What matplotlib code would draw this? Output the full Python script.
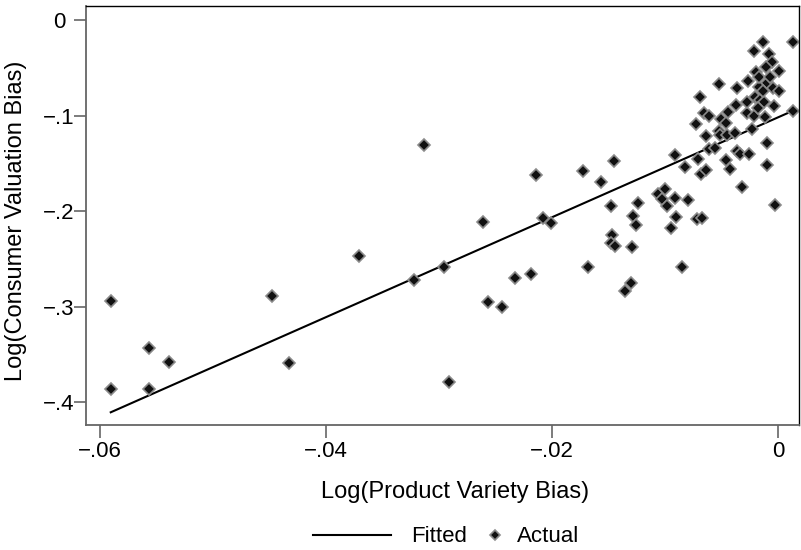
import matplotlib
matplotlib.use("Agg")
import matplotlib.pyplot as plt

plt.rcParams["font.family"] = ["Liberation Sans", "DejaVu Sans"]

# Actual points: log(product variety bias) vs log(consumer valuation bias)
pv_bias = [
    -0.05905, -0.05905, -0.05564, -0.05564, -0.05387, -0.04478, -0.0433, -0.03705,
    -0.03221, -0.03133, -0.02956, -0.02912, -0.02608, -0.02566, -0.0244, -0.02327,
    -0.02188, -0.02144, -0.02082, -0.02012, -0.01723, -0.01681, -0.01564, -0.01454,
    -0.01482, -0.01469, -0.0148, -0.01445, -0.01354, -0.01304, -0.01289, -0.01286,
    -0.01258, -0.01237, -0.01059, -0.01, -0.01029, -0.00985, -0.00912, -0.00792,
    -0.00903, -0.00947, -0.00717, -0.00675, -0.00852, -0.00027, -0.00912, -0.00823,
    -0.00727, -0.00704, -0.00684, -0.00635, -0.00321, -0.00097, -0.00422, -0.00463,
    -0.00363, -0.00339, -0.00257, -0.00608, -0.00553, -0.001, -0.00637, -0.00525,
    -0.00511, -0.00454, -0.00381, -0.00228, -0.00507, -0.0046, -0.00653, -0.00611,
    -0.00442, -0.00274, -0.00215, -0.00115, 0.00133, -0.0069, -0.00204, -0.00159,
    -0.00277, -0.00124, -0.00369, -0.00035, -0.00174, -0.00519, -0.00265, -0.001,
    -0.0017, -0.0036, -0.00042, 0.00012, -0.00135, -0.00135, 0.00133, -0.00215,
    -0.00077, -0.00053, -0.00106, 0.00012, -0.00195, -0.0017, -0.00071,
]
cv_bias = [
    -0.2937, -0.3858, -0.3435, -0.3858, -0.3575, -0.2891, -0.3586, -0.2473,
    -0.2717, -0.1308, -0.2581, -0.3788, -0.2114, -0.2954, -0.3006, -0.2696,
    -0.2658, -0.1619, -0.2072, -0.2121, -0.1577, -0.2581, -0.1695, -0.1478,
    -0.1946, -0.2253, -0.2337, -0.2362, -0.2832, -0.2757, -0.2378, -0.2051,
    -0.2147, -0.1913, -0.1821, -0.1768, -0.1878, -0.1946, -0.1866, -0.1883,
    -0.2059, -0.218, -0.2079, -0.2067, -0.2581, -0.1936, -0.1415, -0.1538,
    -0.1093, -0.1454, -0.1606, -0.1573, -0.1744, -0.1512, -0.1557, -0.1462,
    -0.1368, -0.1402, -0.1404, -0.1347, -0.1342, -0.1284, -0.1216, -0.1158,
    -0.1198, -0.1206, -0.1177, -0.1144, -0.1039, -0.1078, -0.0973, -0.1001,
    -0.0963, -0.0976, -0.1007, -0.1017, -0.0949, -0.0809, -0.0809, -0.0837,
    -0.0855, -0.0861, -0.0893, -0.09, -0.0921, -0.067, -0.0638, -0.0662,
    -0.0698, -0.0715, -0.0712, -0.074, -0.0746, -0.0227, -0.0228, -0.0324,
    -0.0353, -0.0443, -0.0495, -0.0531, -0.0541, -0.0593, -0.0593,
]

# fitted line end points
fit_x = [-0.05905, 0.00133]
fit_y = [-0.4105, -0.0949]

xticks = [-0.06, -0.04, -0.02, 0]
xtick_labels = ["\u2212.06", "\u2212.04", "\u2212.02", "0"]
yticks = [0, -0.1, -0.2, -0.3, -0.4]
ytick_labels = ["0", "\u2212.1", "\u2212.2", "\u2212.3", "\u2212.4"]

fig = plt.figure(figsize=(8.01, 5.5), dpi=100)
ax = fig.add_axes([86 / 801, 125 / 550, 713 / 801, 419 / 550])

fitted, = ax.plot(fit_x, fit_y, color="black", lw=1.5)
actual, = ax.plot(pv_bias, cv_bias, ls="none", marker="D", ms=6.5,
                  mfc="#111111", mec="#8a8a8a", mew=1.2)

ax.set_xlim(-0.06124, 0.00186)
ax.set_ylim(-0.4238, 0.0147)

ax.set_xticks(xticks)
ax.set_xticklabels(xtick_labels, fontsize=16)
ax.set_yticks(yticks)
ax.set_yticklabels(ytick_labels, fontsize=16)
for lab in ax.get_yticklabels():
    lab.set_horizontalalignment("center")
ax.tick_params(axis="both", length=9, width=1.2, color="#666666")
ax.tick_params(axis="y", pad=10.5)
ax.tick_params(axis="x", pad=2.5)

for side in ["left", "bottom"]:
    ax.spines[side].set_color("#666666")
    ax.spines[side].set_linewidth(1.3)
for side in ["top", "right"]:
    ax.spines[side].set_color("black")
    ax.spines[side].set_linewidth(1.0)

ax.set_xlabel("Log(Product Variety Bias)", fontsize=17)
ax.set_ylabel("Log(Consumer Valuation Bias)", fontsize=17)
ax.xaxis.set_label_coords((455 - 86) / 713, -(492 - 425) / 419)
ax.xaxis.label.set_verticalalignment("center")
ax.yaxis.set_label_coords((16 - 86) / 713, (425 - 221) / 419)
ax.yaxis.label.set_verticalalignment("center")

fig.legend([fitted], ["Fitted"], loc="center left", frameon=False,
           bbox_to_anchor=(313 / 801, 1 - 537 / 550), fontsize=16,
           borderpad=0, borderaxespad=0, handlelength=3.5, handletextpad=0.9)
fig.legend([actual], ["Actual"], loc="center left", frameon=False,
           bbox_to_anchor=(487 / 801, 1 - 537 / 550), fontsize=16,
           borderpad=0, borderaxespad=0, handlelength=0.7, handletextpad=0.65,
           markerscale=0.75)

fig.savefig("out.png", dpi=100)
